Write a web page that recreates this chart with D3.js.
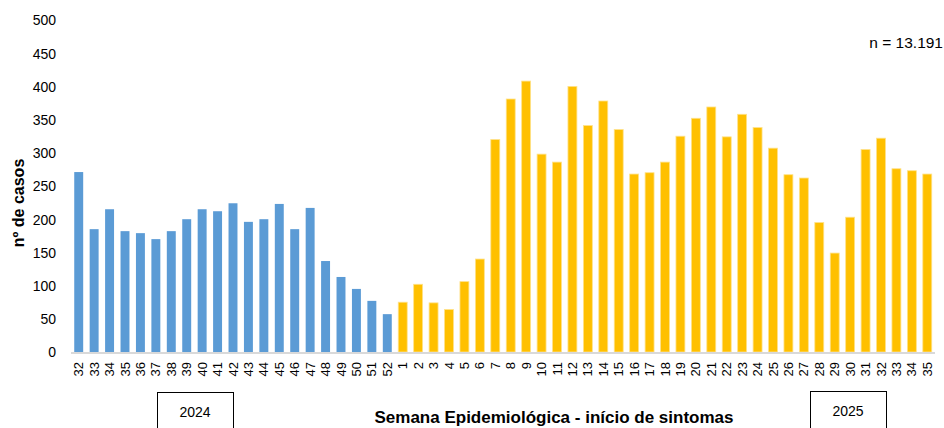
<!DOCTYPE html>
<html><head><meta charset="utf-8">
<script src="https://cdn.jsdelivr.net/npm/d3@7"></script>
<style>body{margin:0;background:#fff}svg{display:block}</style>
</head><body>
<svg id="c" width="944" height="428"></svg>
<script>
const weeks2024 = ["32","33","34","35","36","37","38","39","40","41","42","43","44","45","46","47","48","49","50","51","52"];
const cases2024 = [271,185,215,182,179,170,182,200,215,212,224,196,200,223,185,217,137,113,95,77,57];
const weeks2025 = ["1","2","3","4","5","6","7","8","9","10","11","12","13","14","15","16","17","18","19","20","21","22","23","24","25","26","27","28","29","30","31","32","33","34","35"];
const cases2025 = [75,102,74,64,106,140,320,381,408,298,286,400,341,378,335,268,270,286,325,352,369,324,358,338,307,267,262,195,149,203,305,322,276,273,268];
const yTicks = [0,50,100,150,200,250,300,350,400,450,500];
const yearLabels = ["2024","2025"];
const xTitle = "Semana Epidemiológica - início de sintomas";
const yTitle = "nº de casos";
const nLabel = "n = 13.191";

(function(){
const data = weeks2024.map((w,i)=>({key:"a"+w,label:w,v:cases2024[i],y:0}))
  .concat(weeks2025.map((w,i)=>({key:"b"+w,label:w,v:cases2025[i],y:1})));
const colors = ["#5B9BD5","#FFC000"];

const svg = d3.select("#c");
const mLeft=71, mRight=935, mTop=20, mBottom=352;
const x = d3.scaleBand().domain(data.map(d=>d.key)).range([mLeft,mRight]).paddingInner(0.42).paddingOuter(0.21);
const y = d3.scaleLinear().domain([0,500]).range([mBottom,mTop]);
const font = "'Liberation Sans', Arial, sans-serif";

const yAxis = d3.axisLeft(y).tickValues(yTicks).tickSize(0).tickPadding(0);
const ga = svg.append("g").attr("transform",`translate(56,0)`).call(yAxis);
ga.select(".domain").remove();
ga.selectAll("text").attr("font-family",font).attr("font-size",14).attr("fill","#000").attr("dy","0.35em");

svg.append("g").selectAll("rect").data(data).join("rect")
  .attr("x",d=>x(d.key)).attr("width",x.bandwidth())
  .attr("y",d=>y(d.v)).attr("height",d=>mBottom-y(d.v))
  .attr("fill",d=>colors[d.y])
  .attr("stroke",d=>d.y?"#FFE28A":"none").attr("stroke-width",0.8);

svg.append("line").attr("x1",mLeft).attr("x2",mRight).attr("y1",mBottom+1).attr("y2",mBottom+1)
  .attr("stroke","#D9D9D9").attr("stroke-width",2);

const xAxis = d3.axisBottom(x).tickSize(0).tickFormat(k=>data.find(d=>d.key===k).label);
const gx = svg.append("g").attr("transform",`translate(0,${mBottom})`).call(xAxis);
gx.select(".domain").remove();
gx.selectAll("text").attr("font-family",font).attr("font-size",13).attr("fill","#000")
  .attr("transform","rotate(-90)").attr("text-anchor","end").attr("x",-10).attr("y",0).attr("dy","0.35em");

svg.append("text").attr("transform","translate(24,203) rotate(-90)").attr("text-anchor","middle")
  .attr("font-family",font).attr("font-weight","bold").attr("font-size",16).text(yTitle);
svg.append("text").attr("x",554).attr("y",423).attr("text-anchor","middle")
  .attr("font-family",font).attr("font-weight","bold").attr("font-size",17).text(xTitle);
svg.append("text").attr("x",943).attr("y",48).attr("text-anchor","end")
  .attr("font-family",font).attr("font-size",15.5).text(nLabel);

const boxes = [{x:157,y:392},{x:810,y:391}];
boxes.forEach((b,i)=>{
  svg.append("rect").attr("x",b.x+0.5).attr("y",b.y+0.5).attr("width",76).attr("height",50)
    .attr("fill","none").attr("stroke","#000").attr("stroke-width",1);
  svg.append("text").attr("x",b.x+38).attr("y",b.y+25).attr("text-anchor","middle")
    .attr("font-family",font).attr("font-size",14).text(yearLabels[i]);
});
})();
</script>
</body></html>
